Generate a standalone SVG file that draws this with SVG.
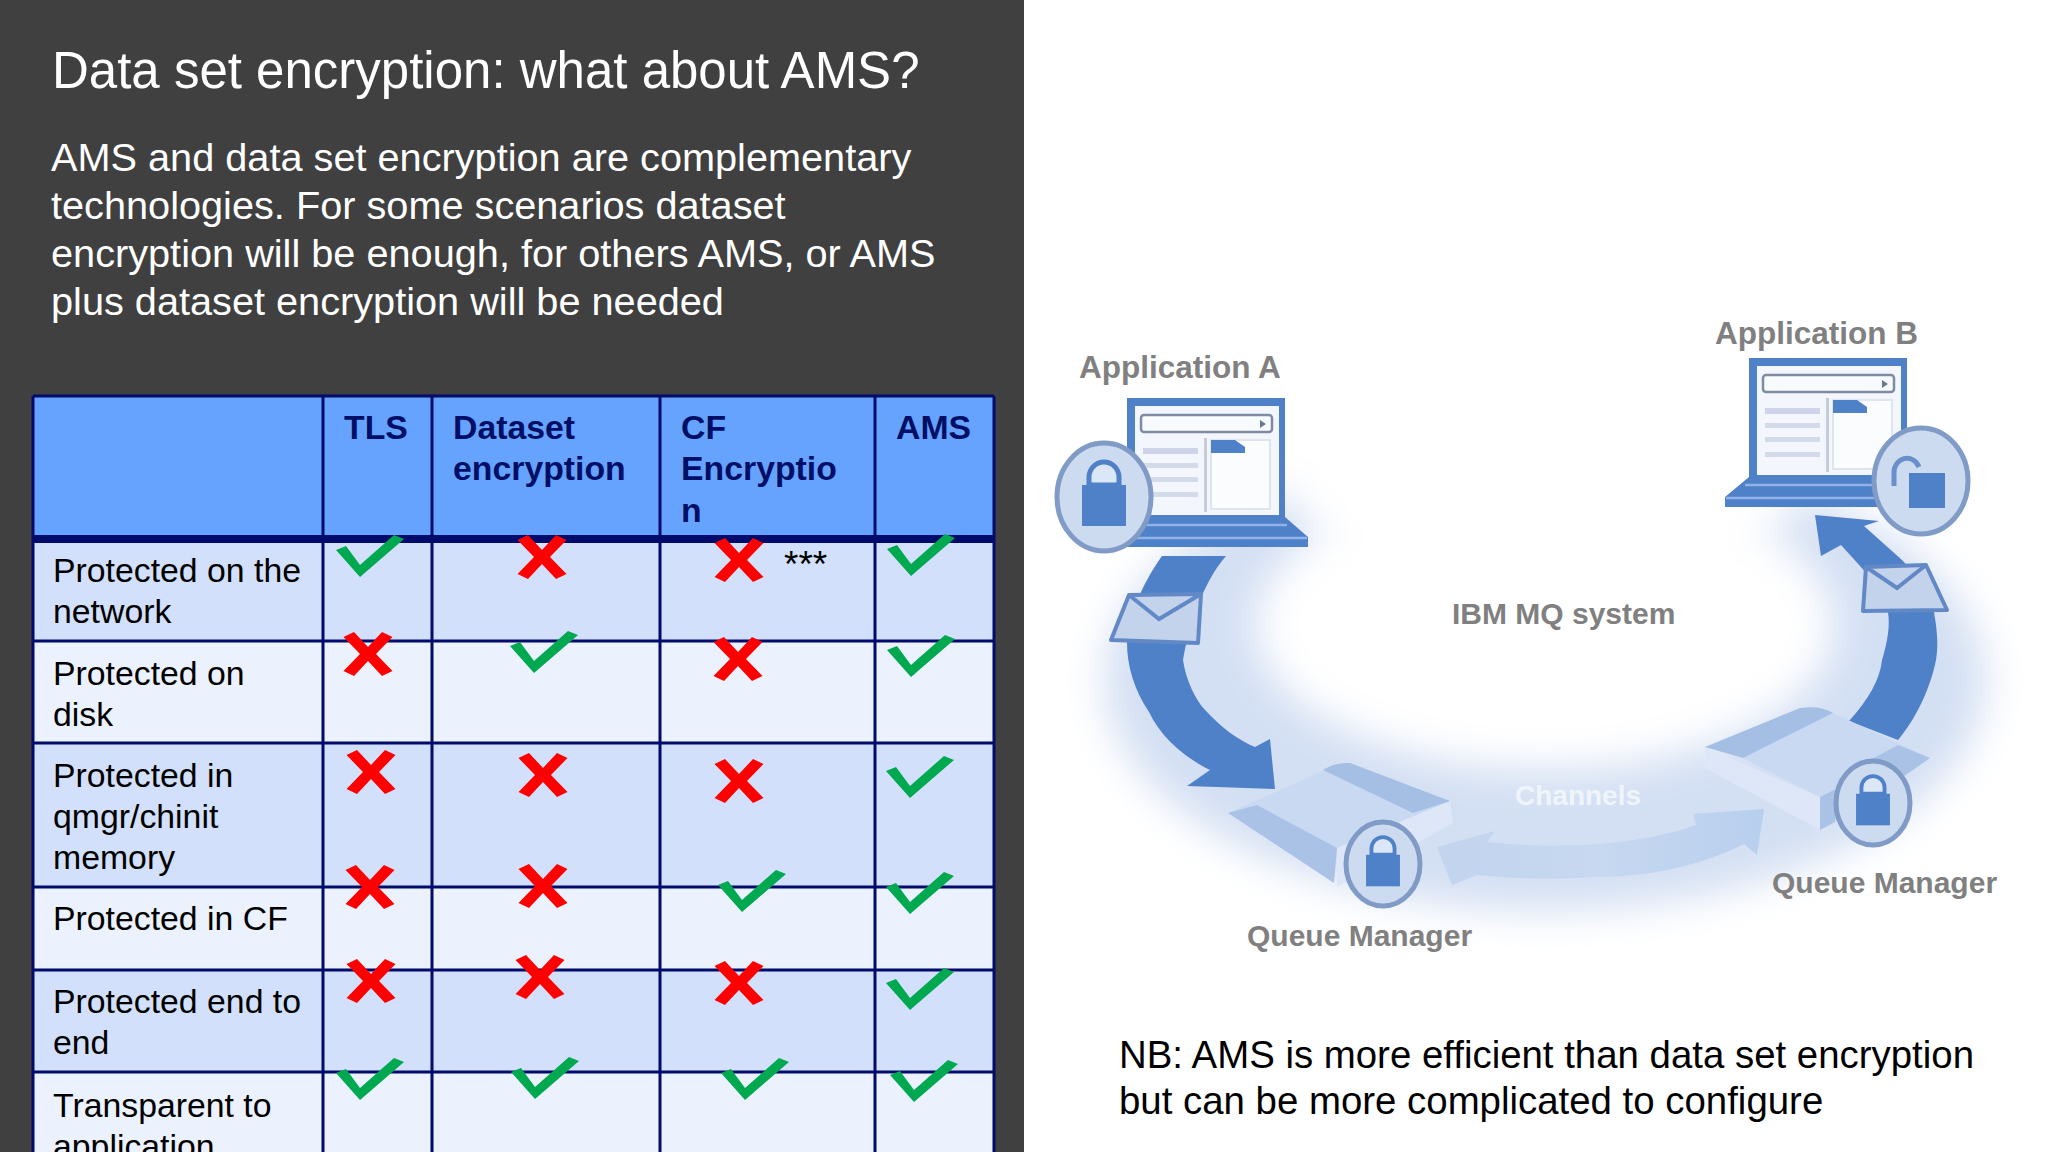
<svg xmlns="http://www.w3.org/2000/svg" width="2048" height="1152" viewBox="0 0 2048 1152">
<style>
text{font-family:"Liberation Sans",Arial,sans-serif}
.t{fill:#fff}
.h{font-size:33.8px;font-weight:700;fill:#000f66}
.r{font-size:33.8px;fill:#000}
.g{font-size:30px;font-weight:700;fill:#808080}
.a{font-size:31.500px}
.line{stroke:#000b6b;stroke-width:3;fill:none}
.lk{fill:#cddbf0;stroke:#7f9bc6;stroke-width:5}
.blue{fill:#5081c9}
.env{fill:#c3d3ec;stroke:#6289c6;stroke-width:4;stroke-linejoin:round}
.fl{fill:none;stroke:#6289c6;stroke-width:4}
.hi{stroke:#8fb3e8;stroke-width:2.500;fill:none}
.top{fill:#c9d9f1}
.side{fill:#dde7f7}
</style>
<defs>
<filter id="b40" x="-30%" y="-40%" width="160%" height="180%"><feGaussianBlur stdDeviation="20"/></filter>
<filter id="s" x="-5%" y="-5%" width="110%" height="110%"><feGaussianBlur stdDeviation="0.7"/></filter>
<polygon id="x" fill="#fe0000" points="-24.5,-17 -14,-22 0,-7 14,-22 24.5,-17 8,0 24.5,17 14,22 0,7 -14,22 -24.500,17 -8,0"/>
<polygon id="c" fill="#00a850" points="0,0 -24,-27 -14,-31 0,-12 34,-42 44,-38"/>
<g id="screen">
<rect x="1127" y="398" width="158" height="121" fill="#5081c9"/>
<rect x="1135" y="406" width="144" height="109" fill="#f3f7fd"/>
<rect x="1141" y="415" width="131" height="17" rx="3" fill="#f7fbfe" stroke="#7f8aa3" stroke-width="2.500"/>
<polygon points="1260,420 1266,424 1260,428" fill="#6b7a90"/>
<rect x="1143" y="448" width="55" height="6" fill="#cfd4ea"/>
<rect x="1143" y="463" width="55" height="5" fill="#d3dbea"/>
<rect x="1143" y="477" width="55" height="5" fill="#d3dbea"/>
<rect x="1143" y="492" width="55" height="5" fill="#d3dbea"/>
<rect x="1204" y="438" width="3" height="74" fill="#c4ccd8"/>
<rect x="1211" y="440" width="59" height="69" fill="#fbfcfe" stroke="#dfe5ee" stroke-width="2"/>
<path d="M1211 440h24l10 7v6h-34z" fill="#5081c9"/>
</g>
<g id="lock"><path d="M-15 -12v-8a15 15 0 0 1 30 0v8z" fill="#dbe7f7" stroke="#5081c9" stroke-width="5"/><rect x="-22" y="-12" width="44" height="41" fill="#5081c9"/></g>
<linearGradient id="ch" x1="0" y1="0" x2="1" y2="0"><stop offset="0" stop-color="#c2d4ee"/><stop offset=".5" stop-color="#c7d8f0"/><stop offset="1" stop-color="#b8cfee"/></linearGradient>
</defs>
<rect width="2048" height="1152" fill="#fff"/>
<rect id="panel" width="1024" height="1152" fill="#404040"/>
<text class="t" x="52" y="88" font-size="51">Data set encryption: what about AMS?</text>
<g font-size="39.700">
<text class="t" x="51" y="171">AMS and data set encryption are complementary</text>
<text class="t" x="51" y="219">technologies. For some scenarios dataset</text>
<text class="t" x="51" y="267">encryption will be enough, for others AMS, or AMS</text>
<text class="t" x="51" y="315">plus dataset encryption will be needed</text>
</g>
<g id="table">
<rect x="33" y="396" width="961" height="143" fill="#66a3ff"/>
<rect x="33" y="539" width="961" height="102" fill="#d2e0fb"/>
<rect x="33" y="641" width="961" height="102" fill="#ebf1fd"/>
<rect x="33" y="743" width="961" height="144" fill="#d2e0fb"/>
<rect x="33" y="887" width="961" height="83" fill="#ebf1fd"/>
<rect x="33" y="970" width="961" height="102" fill="#d2e0fb"/>
<rect x="33" y="1072" width="961" height="80" fill="#ebf1fd"/>
<path class="line" d="M33 396H994M33 641H994M33 743H994M33 887H994M33 970H994M33 1072H994M33 396V1152M323 396V1152M432 396V1152M660 396V1152M875 396V1152M994 396V1152"/>
<rect x="33" y="535" width="961" height="8" fill="#000b6b"/>
<text class="h" x="344" y="439">TLS</text>
<text class="h" x="453" y="439">Dataset</text><text class="h" x="453" y="480">encryption</text>
<text class="h" x="681" y="439">CF</text><text class="h" x="681" y="480">Encryptio</text><text class="h" x="681" y="522">n</text>
<text class="h" x="896" y="439">AMS</text>
<text class="r" x="53" y="582">Protected on the</text><text class="r" x="53" y="623">network</text>
<text class="r" x="53" y="685">Protected on</text><text class="r" x="53" y="726">disk</text>
<text class="r" x="53" y="787">Protected in</text><text class="r" x="53" y="828">qmgr/chinit</text><text class="r" x="53" y="869">memory</text>
<text class="r" x="53" y="930">Protected in CF</text>
<text class="r" x="53" y="1013">Protected end to</text><text class="r" x="53" y="1054">end</text>
<text class="r" x="53" y="1117">Transparent to</text><text class="r" x="53" y="1158">application</text>
<text x="784" y="577" font-size="37" fill="#000">***</text>
<use href="#x" x="542" y="557"/><use href="#x" x="739" y="560"/><use href="#x" x="368" y="654"/><use href="#x" x="738" y="659"/>
<use href="#x" x="371" y="772"/><use href="#x" x="543" y="775"/><use href="#x" x="739" y="781"/>
<use href="#x" x="370" y="887"/><use href="#x" x="543" y="886"/>
<use href="#x" x="371" y="981"/><use href="#x" x="540" y="977"/><use href="#x" x="739" y="983"/>
<use href="#c" x="360" y="577"/><use href="#c" x="911" y="576"/><use href="#c" x="534" y="673"/><use href="#c" x="911" y="677"/>
<use href="#c" x="910" y="798"/><use href="#c" x="742" y="912"/><use href="#c" x="910" y="914"/><use href="#c" x="910" y="1010"/>
<use href="#c" x="360" y="1100"/><use href="#c" x="535" y="1099"/><use href="#c" x="745" y="1100"/><use href="#c" x="914" y="1102"/>
</g>
<g id="glow">
<ellipse cx="1545" cy="680" rx="440" ry="230" fill="#d3dff3" filter="url(#b40)"/>
<ellipse cx="1545" cy="625" rx="290" ry="145" fill="#fff" filter="url(#b40)"/>
<ellipse cx="1545" cy="470" rx="260" ry="130" fill="#fff" filter="url(#b40)"/>
</g>
<g id="connectors" filter="url(#s)">
<path class="blue" d="M1162 556H1226C1205 580 1190 620 1183 660C1186 680 1195 700 1207 712C1222 728 1238 740 1255 747L1270 739L1275 789L1187 786L1210 770C1180 755 1160 735 1149 712C1134 690 1127 665 1127 643C1130 610 1145 580 1162 556Z"/>
<path class="blue" d="M1849 721C1868 700 1880 680 1882 660C1888 640 1890 625 1888 612C1885 595 1878 585 1870 577L1841 545L1821 556L1815 515L1879 521L1864 526L1902 560C1920 578 1932 595 1934 612C1938 635 1938 648 1936 660C1930 690 1915 720 1898 740Z"/>
<path id="channel" fill="url(#ch)" d="M1437 847L1495 831L1487 842C1560 850 1640 845 1696 825L1693 814L1764 809L1757 855L1744 844C1690 870 1640 877 1593 877C1550 880 1510 878 1477 875L1452 885Z"/>
</g>
<g id="envelope-a" filter="url(#s)"><polygon class="env" points="1129,595 1201,594 1198,643 1111,640"/><path class="fl" d="M1129 595L1159 619L1201 594"/></g>
<g id="envelope-b" filter="url(#s)"><polygon class="env" points="1866,567 1926,565 1947,610 1863,611"/><path class="fl" d="M1866 567L1897 588L1926 565"/></g>
<g id="application-a">
<g filter="url(#s)">
<use href="#screen"/>
<polygon points="1127,517 1285,517 1308,537 1308,547 1100,547 1100,517" fill="#5081c9"/>
<path class="hi" d="M1127 525H1287M1135 538H1307"/>
<ellipse class="lk" cx="1104" cy="497" rx="47" ry="54"/><use href="#lock" transform="translate(1104 497)"/>
</g>
<text class="g a" x="1079" y="378">Application A</text></g>
<g id="application-b">
<g filter="url(#s)">
<use href="#screen" x="622" y="-40"/>
<polygon points="1749,477 1907,477 1907,507 1725,507 1725,497" fill="#5081c9"/>
<path class="hi" d="M1745 485H1907M1726 498H1900"/>
<ellipse class="lk" cx="1921" cy="481" rx="47" ry="53"/>
<rect x="1909" y="473" width="36" height="35" fill="#5081c9"/><path d="M1894 486v-13a13 14 0 0 1 25 -6" fill="none" stroke="#6a90cb" stroke-width="5"/>
</g>
<text class="g a" x="1715" y="344">Application B</text></g>
<g id="qm-left">
<g filter="url(#s)">
<polygon class="side" points="1337,848 1450,801 1453,823 1337,887"/>
<polygon class="top" points="1228,813 1330,768 1450,801 1337,848"/>
<polygon points="1228,813 1257,805 1337,848 1334,883" fill="#a9c2e6"/>
<path d="M1323 770Q1335 762 1350 763L1450 801L1413 813Z" fill="#a5bfe4"/>
<ellipse class="lk" cx="1383" cy="864" rx="37" ry="42"/><use href="#lock" transform="translate(1383 864) scale(.77)"/>
</g>
<text class="g" x="1247" y="946">Queue Manager</text></g>
<g id="qm-right">
<g filter="url(#s)">
<polygon class="side" points="1705,747 1820,797 1820,830 1705,768"/>
<polygon class="top" points="1743,758 1833,713 1930,758 1820,797"/>
<path d="M1705 747L1800 708Q1820 705 1833 713L1743 758Z" fill="#a5bfe4"/>
<polygon points="1898,745 1930,758 1903,777 1870,760" fill="#a9c2e6"/>
<polygon points="1820,797 1840,787 1835,822 1820,830" fill="#a9c2e6"/>
<ellipse class="lk" cx="1873" cy="803" rx="37" ry="42"/><use href="#lock" transform="translate(1873 803) scale(.77)"/>
</g>
<text class="g" x="1772" y="893">Queue Manager</text></g>
<text class="g" x="1452" y="624">IBM MQ system</text>
<text class="g" x="1515" y="805" style="fill:#f0f4fb;font-size:28px">Channels</text>
<text x="1119" y="1068" font-size="38.400" fill="#000">NB: AMS is more efficient than data set encryption</text>
<text x="1119" y="1114" font-size="38.400" fill="#000">but can be more complicated to configure</text>
</svg>
